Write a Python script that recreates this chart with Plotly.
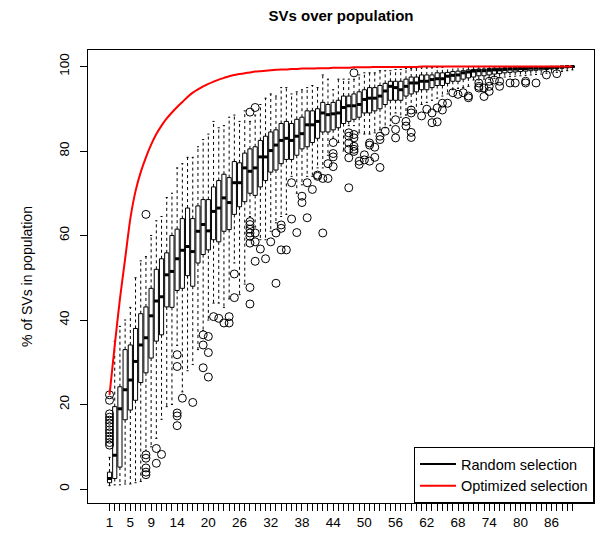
import plotly.graph_objects as go

# ---------------- data ----------------
positions = list(range(1, 91))

q1 = [1.5, 2.5, 5.2, 16.4, 18.7, 21.0, 25.2, 27.5, 31.0, 35.0,
      36.5, 43.1, 43.0, 47.0, 47.5, 50.5, 48.0, 53.5, 55.5, 56.6,
      59.0, 58.5, 61.0, 61.4, 65.0, 66.8, 68.0, 70.0, 69.5, 71.5,
      73.0, 75.0, 75.5, 77.0, 78.0, 78.0, 79.0, 80.5, 81.0, 82.0,
      83.0, 84.5, 84.5, 85.0, 85.5, 86.5, 87.0, 87.5, 88.0, 89.0,
      89.0, 89.5, 90.0, 91.0, 92.0, 92.0, 92.0, 93.0, 93.5, 94.0,
      94.5, 94.5, 95.0, 95.5, 95.5, 96.0, 96.5, 96.5, 97.0, 97.3,
      97.5, 97.8, 97.8, 98.0, 98.2, 98.3, 98.5, 98.6, 98.7, 98.8,
      98.9, 99.0, 99.1, 99.2, 99.3, 99.4, 99.5, 99.6, 99.7, 99.8]

medians = [2.5, 8.0, 19.0, 23.5, 25.8, 30.2, 34.1, 35.8, 41.0, 44.5,
           45.5, 50.7, 51.5, 54.5, 56.5, 57.4, 56.2, 61.0, 62.6, 61.1,
           65.7, 66.5, 68.9, 67.8, 72.5, 72.5, 76.0, 75.2, 76.0, 78.6,
           78.6, 80.1, 81.4, 82.5, 83.0, 82.5, 83.5, 84.1, 86.2, 86.2,
           87.0, 89.0, 88.6, 88.8, 89.0, 90.3, 90.7, 90.7, 91.0, 92.2,
           92.5, 92.5, 93.0, 94.2, 95.3, 95.0, 94.5, 95.3, 96.1, 96.1,
           96.5, 96.5, 96.9, 97.1, 97.1, 97.7, 97.9, 98.0, 98.5, 98.7,
           98.9, 99.0, 99.0, 99.1, 99.2, 99.2, 99.3, 99.4, 99.4, 99.5,
           99.5, 99.6, 99.6, 99.7, 99.7, 99.8, 99.8, 99.9, 100.0, 100.0]

q3 = [4.0, 19.5, 24.2, 33.0, 34.1, 38.0, 41.5, 43.1, 47.5, 52.0,
      54.5, 55.9, 60.0, 61.5, 64.0, 66.5, 64.0, 67.0, 68.5, 68.5,
      71.5, 73.0, 74.5, 73.7, 77.5, 77.2, 79.5, 80.5, 81.0, 82.5,
      83.5, 84.5, 85.0, 86.5, 87.0, 86.5, 87.5, 88.0, 89.5, 89.5,
      90.0, 91.5, 91.0, 91.5, 92.0, 93.0, 93.0, 93.5, 94.0, 94.5,
      95.0, 95.0, 95.5, 96.0, 96.5, 96.5, 96.5, 97.0, 97.5, 97.5,
      98.0, 98.0, 98.0, 98.5, 98.5, 98.6, 98.8, 98.9, 99.0, 99.2,
      99.3, 99.4, 99.4, 99.5, 99.6, 99.6, 99.7, 99.7, 99.8, 99.8,
      99.9, 99.9, 100.0, 100.0, 100.0, 100.0, 100.0, 100.0, 100.0, 100.0]

whisker_low = [0.8, 1.0, 1.0, 1.2, 1.2, 1.5, 1.8, 9.2, 10.0, 12.0,
               16.5, 19.5, 20.0, 34.0, 23.0, 28.0, 29.5, 33.0, 37.5, 40.0,
               44.0, 44.0, 43.0, 45.0, 53.5, 46.0, 48.5, 64.5, 62.0, 59.0,
               59.0, 61.0, 63.0, 64.5, 65.0, 74.0, 70.0, 72.0, 74.0, 74.0,
               76.0, 76.0, 79.0, 83.0, 82.0, 80.0, 86.0, 86.0, 84.3, 84.0,
               84.0, 84.3, 85.0, 85.5, 86.0, 89.0, 88.0, 88.5, 90.5, 89.0,
               91.0, 91.5, 92.0, 92.5, 93.0, 93.5, 94.5, 94.8, 95.0, 95.3,
               96.8, 96.8, 97.0, 97.0, 97.2, 97.3, 97.5, 97.6, 97.7, 97.8,
               97.9, 98.0, 98.1, 98.2, 98.4, 98.5, 98.6, 98.8, 99.0, 99.2]

whisker_high = [7.5, 35.0, 38.5, 40.0, 43.0, 50.0, 54.0, 55.0, 60.0, 63.5,
                64.5, 69.0, 70.0, 76.0, 77.0, 78.5, 78.5, 81.0, 82.7, 84.0,
                87.0, 85.5, 86.0, 88.0, 88.5, 87.0, 89.5, 87.0, 88.5, 91.0,
                92.5, 93.5, 93.0, 95.0, 95.0, 93.5, 94.0, 94.5, 95.0, 95.5,
                95.0, 98.0, 97.0, 94.5, 97.0, 97.0, 97.0, 97.0, 98.0, 98.5,
                98.5, 98.5, 99.0, 99.0, 99.0, 99.3, 99.3, 99.5, 99.5, 99.7,
                99.7, 99.7, 99.8, 99.8, 99.8, 100.0, 100.0, 100.0, 100.0, 100.0,
                100.0, 100.0, 100.0, 100.0, 100.0, 100.0, 100.0, 100.0, 100.0, 100.0,
                100.0, 100.0, 100.0, 100.0, 100.0, 100.0, 100.0, 100.0, 100.0, 100.0]

outlier_x = [1, 1, 1, 1, 1, 1, 1, 1, 1, 1, 1, 1, 1,
             8, 8, 8, 8, 8, 8,
             10, 10, 11,
             14, 14, 14, 14, 14, 15, 17,
             19, 19, 19, 20, 20, 20,
             21, 22, 23, 24, 24, 25, 25,
             28, 28, 28, 28, 28, 28, 28, 28, 28,
             29, 29, 29, 29, 30, 31, 32, 33, 33,
             34, 34, 34, 35, 36, 36, 37, 38, 38, 39, 39, 40,
             41, 41, 42, 42, 43, 43, 44, 44, 44, 44,
             47, 47, 47, 47, 47, 47,
             48, 48, 48, 48, 48, 48,
             49, 49, 50, 50, 51, 51, 51, 52, 52, 53, 53, 53, 54,
             56, 56, 56, 58, 58, 59, 59, 59, 59,
             61, 62, 63, 63, 64, 64, 65, 65, 66, 67, 68, 69, 70, 70,
             72, 72, 72, 73, 73, 74, 74, 74, 75, 76, 76, 78, 79, 81, 81, 83,
             85, 87]

outlier_y = [22.3, 21.0, 17.8, 17.0, 16.3, 15.6, 14.8, 14.0, 13.3, 12.5, 11.8, 11.0, 10.4,
             65.0, 8.1, 7.3, 5.0, 4.0, 3.4,
             9.6, 6.1, 8.2,
             31.8, 29.0, 18.0, 17.3, 15.0, 21.5, 20.5,
             36.5, 34.1, 28.7, 36.1, 32.3, 26.5,
             40.8, 40.4, 39.3, 40.8, 39.3, 50.9, 45.3,
             89.2, 63.3, 62.6, 61.5, 60.6, 59.8, 58.2, 47.7, 43.8,
             90.3, 60.6, 58.5, 53.9, 56.8, 54.5, 58.5, 60.6, 48.7,
             62.5, 61.7, 56.6, 56.6, 72.5, 63.9, 60.7, 69.3, 67.8, 72.5, 64.2, 70.9,
             74.3, 74.0, 73.5, 60.6, 77.0, 73.5, 82.0, 79.4, 78.6, 76.3,
             84.3, 83.5, 81.9, 80.4, 78.4, 71.3,
             98.5, 83.9, 83.1, 81.1, 80.4, 79.9,
             77.6, 76.8, 79.1, 77.9, 81.9, 81.4, 77.6, 80.9, 78.5, 83.5, 82.7, 76.1, 84.7,
             87.4, 85.1, 83.1, 87.0, 85.9, 89.7, 89.0, 84.4, 83.2,
             88.3, 89.9, 89.0, 86.7, 90.2, 86.9, 91.3, 89.7, 91.3, 93.8, 93.4, 93.8, 93.0, 92.6,
             96.1, 95.3, 94.9, 94.9, 92.9, 96.5, 95.3, 94.1, 96.8, 96.5, 95.3, 96.1, 96.1, 96.5, 96.1, 96.1,
             98.0, 98.3]

optimized = [22.3, 34.0, 45.0, 54.5, 64.0, 70.5, 75.0, 78.5, 81.5, 84.0,
             86.0, 87.7, 89.1, 90.4, 91.6, 92.8, 93.8, 94.6, 95.3, 95.9,
             96.4, 96.9, 97.3, 97.7, 98.0, 98.2, 98.4, 98.6, 98.8, 98.9,
             99.0, 99.1, 99.2, 99.3, 99.3, 99.4, 99.4, 99.5, 99.5, 99.5,
             99.6, 99.6, 99.6, 99.7, 99.7, 99.7, 99.7, 99.8, 99.8, 99.8,
             99.8, 99.9, 99.9, 99.9, 99.9, 99.9, 99.9, 99.9, 99.9, 99.9,
             100.0, 100.0, 100.0, 100.0, 100.0, 100.0, 100.0, 100.0, 100.0, 100.0,
             100.0, 100.0, 100.0, 100.0, 100.0, 100.0, 100.0, 100.0, 100.0, 100.0,
             100.0, 100.0, 100.0, 100.0, 100.0, 100.0, 100.0, 100.0, 100.0, 100.0]

shown_x_labels = ["1", "5", "9", "14", "20", "26", "32", "38", "44", "50",
                  "56", "62", "68", "74", "80", "86"]
y_ticks = [0, 20, 40, 60, 80, 100]

title_text = "SVs over population"
y_title = "% of SVs in population"
legend_names = ["Random selection", "Optimized selection"]

# ---------------- styling helpers ----------------
FONT = "Liberation Sans, Arial, Helvetica, sans-serif"
BOX_HALF = 0.4
STAPLE_HALF = 0.2

# whisker segments (dashed)
wx, wy = [], []
for p, a, b, lo, hi in zip(positions, q1, q3, whisker_low, whisker_high):
    wx += [p, p, None, p, p, None]
    wy += [b, hi, None, a, lo, None]

# staples
sx, sy = [], []
for p, lo, hi in zip(positions, whisker_low, whisker_high):
    sx += [p - STAPLE_HALF, p + STAPLE_HALF, None, p - STAPLE_HALF, p + STAPLE_HALF, None]
    sy += [hi, hi, None, lo, lo, None]

# thick medians
mx, my = [], []
for p, m in zip(positions, medians):
    mx += [p - BOX_HALF, p + BOX_HALF, None]
    my += [m, m, None]

fig = go.Figure()

fig.add_trace(go.Box(
    x=positions, q1=q1, median=medians, q3=q3,
    lowerfence=q1, upperfence=q3,
    orientation="v", width=2 * BOX_HALF,
    fillcolor="white", line=dict(color="black", width=1),
    whiskerwidth=0, boxpoints=False, showlegend=False, hoverinfo="skip",
))

fig.add_trace(go.Scatter(x=wx, y=wy, mode="lines",
                         line=dict(color="black", width=1, dash="3px,3px"),
                         showlegend=False, hoverinfo="skip"))
fig.add_trace(go.Scatter(x=sx, y=sy, mode="lines",
                         line=dict(color="black", width=1),
                         showlegend=False, hoverinfo="skip"))
fig.add_trace(go.Scatter(x=mx, y=my, mode="lines",
                         line=dict(color="black", width=3),
                         showlegend=False, hoverinfo="skip"))
fig.add_trace(go.Scatter(x=outlier_x, y=outlier_y, mode="markers",
                         marker=dict(symbol="circle-open", size=8,
                                     color="black", line=dict(width=1)),
                         showlegend=False, hoverinfo="skip"))

# legend entry for random selection (no drawn data)
fig.add_trace(go.Scatter(x=[None], y=[None], mode="lines",
                         line=dict(color="black", width=2),
                         name=legend_names[0]))
fig.add_trace(go.Scatter(x=positions, y=optimized, mode="lines",
                         line=dict(color="red", width=2, shape="spline", smoothing=0.6),
                         name=legend_names[1]))

tickvals_x = positions
ticktext_x = [str(p) if str(p) in shown_x_labels else "" for p in positions]

fig.update_layout(
    width=601, height=537,
    margin=dict(l=88, r=7, t=50, b=34),
    paper_bgcolor="white", plot_bgcolor="white",
    font=dict(family=FONT, size=14, color="black"),
    title=dict(text="<b>" + title_text + "</b>", x=0.5, xref="paper",
               y=1 - 16 / 537, yref="container", yanchor="middle",
               xanchor="center", font=dict(size=15, family=FONT)),
    showlegend=True,
    legend=dict(x=1, y=0, xanchor="right", yanchor="bottom",
                bgcolor="white", bordercolor="black", borderwidth=1,
                font=dict(size=14.5, family=FONT), itemwidth=36,
                tracegroupgap=0),
    xaxis=dict(range=[-3.14, 94.15], tickvals=tickvals_x, ticktext=ticktext_x,
               tickangle=0,
               ticks="outside", ticklen=7, tickcolor="black", tickwidth=1,
               showline=True, linecolor="black", linewidth=1, mirror=True,
               showgrid=False, zeroline=False, automargin=False,
               tickfont=dict(size=13.5, family=FONT)),
    yaxis=dict(range=[-3.3, 103.9], tickvals=y_ticks, tickangle=-90,
               ticks="outside", ticklen=7, tickcolor="black", tickwidth=1,
               showline=True, linecolor="black", linewidth=1, mirror=True,
               showgrid=False, zeroline=False, automargin=False,
               tickfont=dict(size=13.5, family=FONT),
               ticklabelstandoff=6,
               title=dict(text=y_title, standoff=20,
                          font=dict(size=14, family=FONT))),
)

fig.write_html("out.html")
